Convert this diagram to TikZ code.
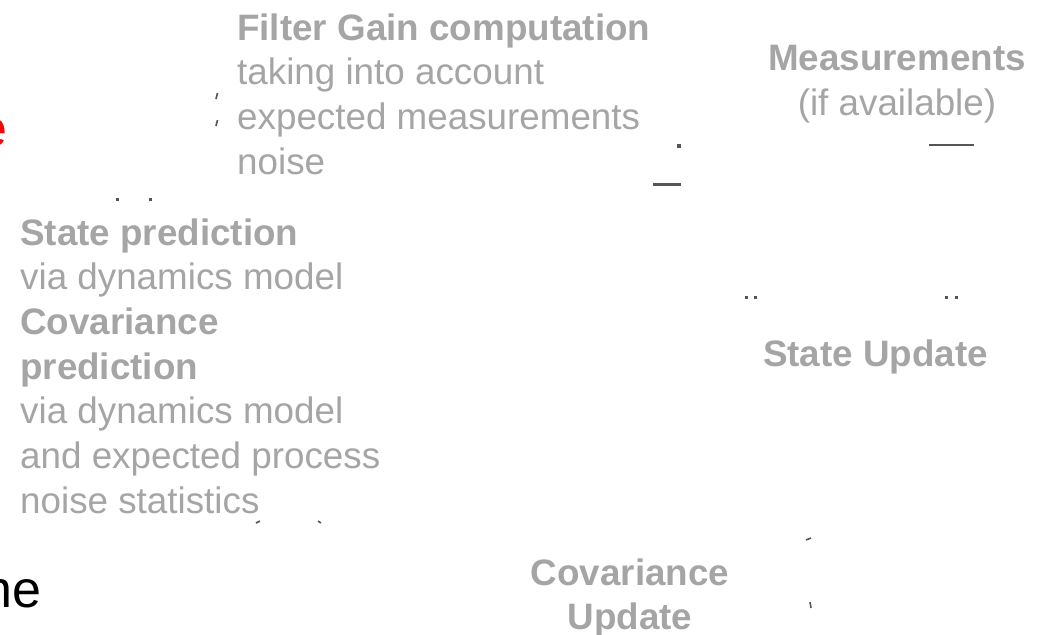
\documentclass[tikz,border=0pt]{standalone}
\usepackage{fontspec}
\setmainfont{Liberation Sans}
\definecolor{txtgray}{RGB}{165,165,165}
\definecolor{markgray}{RGB}{85,85,85}
\tikzset{
  lbl/.style={anchor=base west, inner sep=0pt, text=txtgray, font=\fontsize{36.8}{44.7}\selectfont},
  blbl/.style={lbl, font=\fontsize{36.8}{44.7}\selectfont\bfseries},
  clbl/.style={anchor=base, inner sep=0pt, text=txtgray, font=\fontsize{36.8}{44.7}\selectfont\bfseries},
  mk/.style={draw=markgray, line width=1.6pt},
  dot/.style={fill=markgray},
}
\begin{document}
\begin{tikzpicture}[x=1pt,y=-1pt]
\useasboundingbox (0,0) rectangle (1037,635);
% top block
\node[blbl] (fg) at (237,40) {Filter Gain computation};
\node[lbl] (fg2) at (237,84.7) {taking into account};
\node[lbl] (fg3) at (237,129.3) {expected measurements};
\node[lbl] (fg4) at (237,174) {noise};
% measurements
\node[clbl] (m1) at (897,70) {Measurements};
\node[clbl, font=\fontsize{36.8}{44.7}\selectfont] (m2) at (897,115) {(if available)};
% left block
\node[blbl] (sp1) at (20,245) {State prediction};
\node[lbl] (sp2) at (20,289.7) {via dynamics model};
\node[blbl] (sp3) at (20,334.3) {Covariance};
\node[blbl] (sp4) at (20,379) {prediction};
\node[lbl] (sp5) at (20,423.7) {via dynamics model};
\node[lbl] (sp6) at (20,468.3) {and expected process};
\node[lbl] (sp7) at (20,513) {noise statistics};
% state update
\node[clbl] (su) at (875.5,366) {State Update};
% covariance update
\node[clbl] (cu1) at (630,585) {Covariance};
\node[clbl] (cu2) at (630,629.7) {Update};
% cut-off letters
\node[anchor=base east, inner sep=0pt, text=red, font=\fontsize{52}{60}\selectfont] (re) at (8,146) {e};
\node[anchor=base east, inner sep=0pt, text=black, font=\fontsize{52}{60}\selectfont] (bne) at (42,607) {ne};
% remnant marks
\draw[mk] (217.5,93) -- (216,99);
\draw[mk] (217.5,120) -- (216,126);
\fill[dot] (115.5,197.5) rectangle (118.5,200.5);
\fill[dot] (148.5,197.5) rectangle (151.5,200.5);
\fill[dot] (677,144) rectangle (681,148);
\draw[draw=markgray, line width=3pt] (653,184) -- (681,184);
\draw[draw=markgray, line width=2pt] (929,145) -- (974,145);
\fill[dot] (745,295.5) rectangle (748,298.5);
\fill[dot] (754,295.5) rectangle (757,298.5);
\fill[dot] (945,295.5) rectangle (948,298.5);
\fill[dot] (955,295.5) rectangle (958,298.5);
\draw[mk] (256,523) -- (260,521);
\draw[mk] (318,521) -- (321,523);
\draw[mk] (806,540) -- (811,538);
\draw[mk] (810,602) -- (811,608);
\end{tikzpicture}
\end{document}
